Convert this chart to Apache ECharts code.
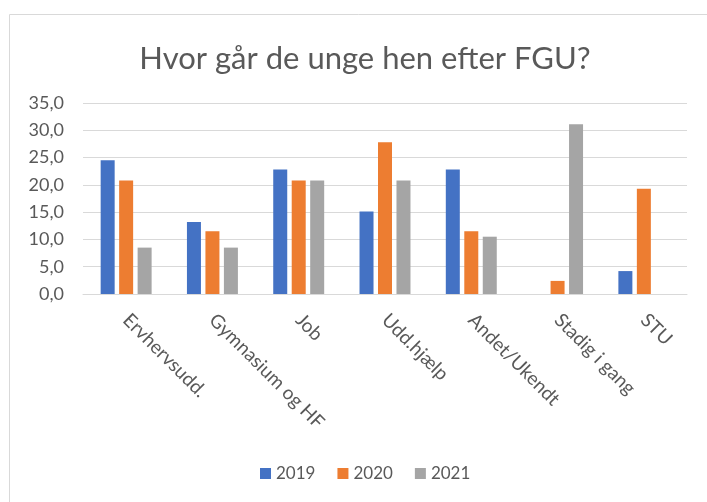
<!DOCTYPE html>
<html>
<head>
<meta charset="utf-8">
<script src="https://cdn.jsdelivr.net/npm/echarts@6/dist/echarts.min.js"></script>
<style>
  html, body { margin: 0; padding: 0; background: #fff; }
  #chart { width: 707px; height: 502px; }
</style>
</head>
<body>
<div id="chart"></div>
<script>
// kategorier og tal
var categories = ['Ervhervsudd.', 'Gymnasium og HF', 'Job', 'Udd.hjælp', 'Andet/Ukendt', 'Stadig i gang', 'STU'];
var years = ['2019', '2020', '2021'];
var v2019 = [24.5, 13.2, 22.8, 15.1, 22.8, null, 4.2];
var v2020 = [20.8, 11.5, 20.8, 27.8, 11.5, 2.4, 19.3];
var v2021 = [8.5, 8.5, 20.8, 20.8, 10.5, 31.1, null];
var yTicks = { min: 0, max: 35, interval: 5 };

var txt = '#595959';
var font = 'Lato';

function bar(name, data, color) {
  return {
    name: name,
    type: 'bar',
    data: data,
    barWidth: 14,
    barGap: '32%',
    itemStyle: { color: color }
  };
}

var option = {
  animation: false,
  textStyle: { fontFamily: font },
  title: {
    text: 'Hvor går de unge hen efter FGU?',
    left: 360,
    textAlign: 'center',
    top: 38,
    textStyle: { fontSize: 31, fontWeight: 'normal', color: txt, fontFamily: font }
  },
  legend: {
    data: years,
    bottom: 15,
    left: 255,
    icon: 'rect',
    itemWidth: 11,
    itemHeight: 11,
    itemGap: 22,
    textStyle: { fontSize: 17, color: txt, fontFamily: font }
  },
  grid: { left: 83, right: 20, top: 103, bottom: 208 },
  xAxis: {
    type: 'category',
    data: categories,
    axisTick: { show: false },
    axisLine: { lineStyle: { color: '#d9d9d9', width: 1 } },
    axisLabel: {
      rotate: -45,
      interval: 0,
      margin: 23,
      fontSize: 19,
      color: txt,
      fontFamily: font
    }
  },
  yAxis: {
    type: 'value',
    min: yTicks.min,
    max: yTicks.max,
    interval: yTicks.interval,
    axisLine: { show: false },
    axisTick: { show: false },
    splitLine: { lineStyle: { color: '#d9d9d9', width: 1 } },
    axisLabel: {
      margin: 19,
      fontSize: 18,
      color: txt,
      fontFamily: font,
      formatter: function (v) { return v.toFixed(1).replace('.', ','); }
    }
  },
  graphic: [{
    type: 'rect',
    shape: { x: 9.5, y: 14.5, width: 720, height: 520 },
    style: { fill: 'none', stroke: '#d9d9d9', lineWidth: 1 },
    silent: true
  }],
  series: [
    bar(years[0], v2019, '#4472C4'),
    bar(years[1], v2020, '#ED7D31'),
    bar(years[2], v2021, '#A5A5A5')
  ]
};

echarts.init(document.getElementById('chart')).setOption(option);
</script>
</body>
</html>
